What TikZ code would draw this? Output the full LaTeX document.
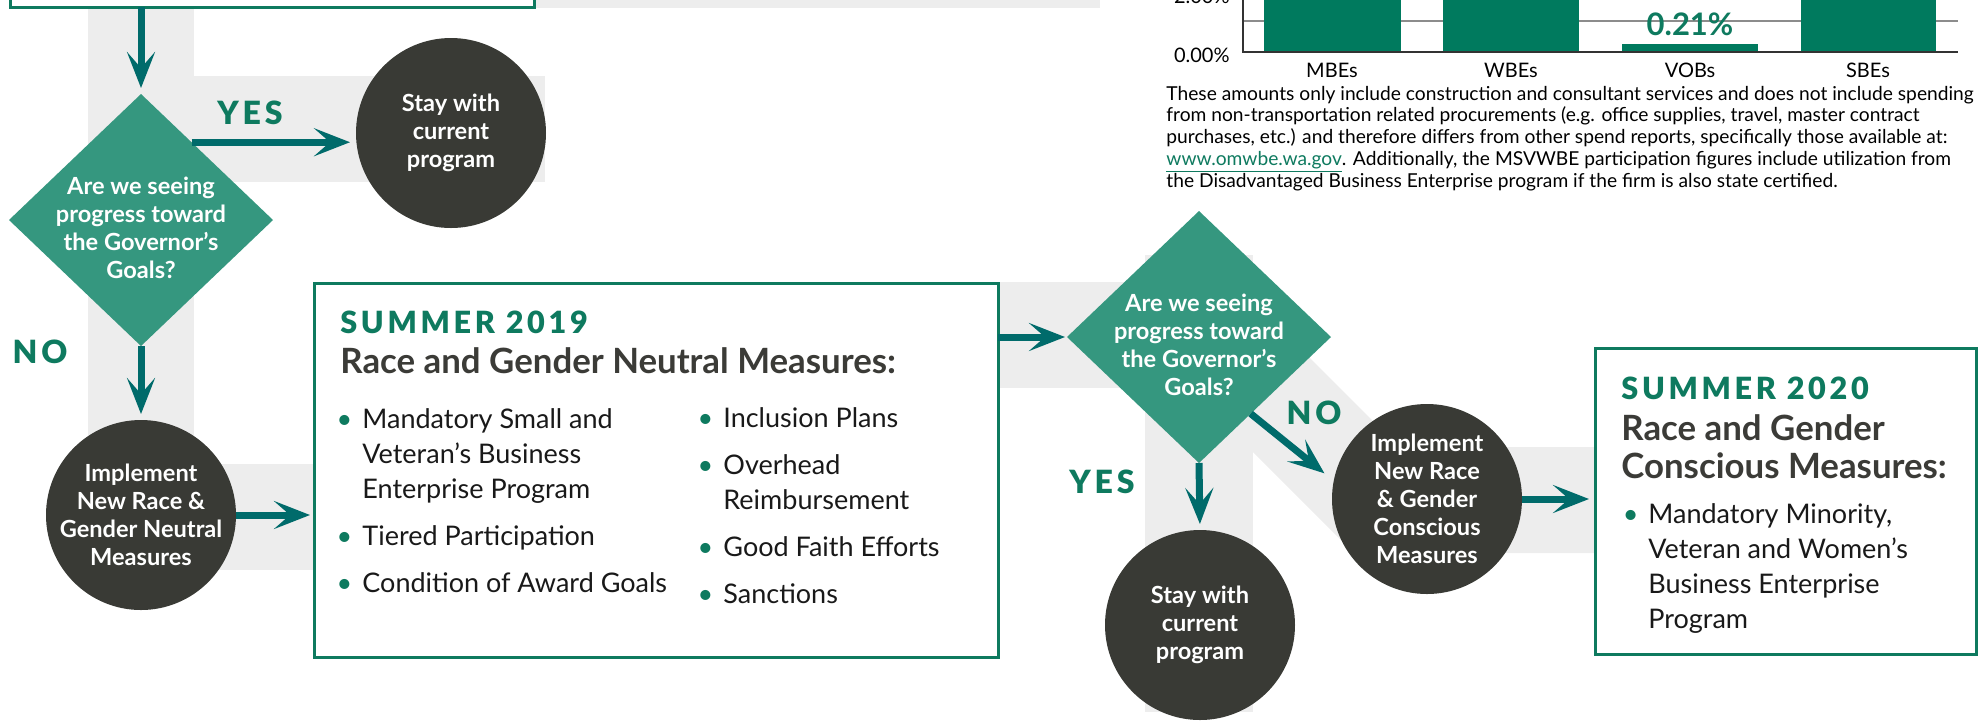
\documentclass[tikz,border=0pt]{standalone}
\usepackage{fontspec}
\setmainfont{Lato}
\newfontfamily\capsfont[LetterSpace=12]{Lato Black}
\usetikzlibrary{shapes.geometric,arrows.meta}

\definecolor{bandgray}{HTML}{EDEDED}
\definecolor{flowteal}{HTML}{006B6B}
\definecolor{qgreen}{HTML}{35977F}
\definecolor{stepdark}{HTML}{393A35}
\definecolor{wsgreen}{HTML}{0E7A5F}
\definecolor{titledark}{HTML}{3B3B37}
\definecolor{bargreen}{HTML}{007A5E}

\newcommand{\bul}{\llap{\textcolor{wsgreen}{\textbullet}\hspace{5pt}}}

\begin{document}
\begin{tikzpicture}[x=0.5pt, y=-0.5pt,
    band/.style={fill=bandgray},
    panel/.style={draw=wsgreen, line width=1.5pt, fill=white, inner sep=0pt, outer sep=0pt},
    decision/.style={diamond, fill=qgreen, minimum width=132pt, minimum height=126pt, inner sep=0pt, outer sep=0pt},
    stepcircle/.style={circle, fill=stepdark, minimum size=95pt, inner sep=-6pt, outer sep=0pt},
    inner/.style={text=white, align=center, font=\fontsize{11.8}{14}\selectfont\bfseries},
    answer/.style={text=wsgreen, inner sep=0pt, font=\capsfont\fontsize{16}{16}\selectfont},
    flow/.style={draw=flowteal, line width=3.5pt, -{Stealth[length=18pt, width=14pt, inset=8pt]}, shorten >=3pt},
    season/.style={anchor=base west, inner sep=0pt, text=wsgreen, font=\capsfont\fontsize{15.3}{15}\selectfont},
    heading/.style={anchor=base west, inner sep=0pt, align=left, text=titledark, font=\fontsize{17.4}{19}\selectfont\bfseries},
    bullets/.style={anchor=base west, inner sep=0pt, align=left, text=black!90, font=\fontsize{13.5}{17.5}\selectfont},
    axislabel/.style={inner sep=0pt, font=\fontsize{10}{12}\selectfont}]

    \useasboundingbox (0,0) rectangle (1983,720);
    \clip (0,0) rectangle (1983,720);

    % grey channels behind the flow
    \fill[band] (534,-10) rectangle (1100,8);
    \fill[band] (88,0) rectangle (194,570);
    \fill[band] (194,76) rectangle (545,182);
    \fill[band] (194,464) rectangle (314,570);
    \fill[band] (998,282) rectangle (1199,388);
    \fill[band] (1145,255) rectangle (1253,712);
    \fill[band] (1253,301) -- (1399,447) -- (1595,447) -- (1595,553) -- (1354,553) -- (1253,452) -- cycle;

    % boxes
    \node[panel, minimum width=262pt, minimum height=60pt] (goals) at (272,-53) {};
    \node[panel, minimum width=342pt, minimum height=187pt] (neutral) at (656,470) {};
    \node[panel, minimum width=190.5pt, minimum height=153pt] (conscious) at (1785.5,501) {};

    % decisions and steps
    \node[decision] (q1) at (141,220) {};
    \node[inner] (q1text) at (141,228) {Are we seeing\\progress toward\\the Governor’s\\Goals?};
    \node[decision] (q2) at (1199,337) {};
    \node[inner] (q2text) at (1199,345) {Are we seeing\\progress toward\\the Governor’s\\Goals?};

    \node[stepcircle, inner] (s1) at (451,133) {Stay with\\current\\program};
    \node[stepcircle, inner] (m1) at (141,515) {Implement\\New Race \&\\Gender Neutral\\Measures};
    \node[stepcircle, inner] (s2) at (1200,625) {Stay with\\current\\program};
    \node[stepcircle, inner] (m2) at (1427,499) {Implement\\New Race\\\& Gender\\Conscious\\Measures};

    \node[answer] (yes1) at (250,113) {YES};
    \node[answer] (no1) at (40,352) {NO};
    \node[answer] (no2) at (1314,413) {NO};
    \node[answer] (yes2) at (1102,482) {YES};

    % arrows
    \draw[flow] (goals.south -| q1) -- (q1.north);
    \draw[flow] (q1.57) -- (q1.57 -| s1.west);
    \draw[flow] (q1.south) -- (m1.north);
    \draw[flow, shorten >=2pt] (m1.east) -- (m1.east -| neutral.west);
    \draw[flow, shorten >=1pt] (q2.west -| neutral.east) -- (q2.west);
    \draw[flow, shorten >=6pt] (q2.-56) -- (m2.169);
    \draw[flow] (q2.south) -- (s2.north);
    \draw[flow] (m2.east) -- (m2.east -| conscious.west);

    % box texts (multi-line nodes sit on their last baseline)
    \node[season] (y2019) at (340,333) {SUMMER 2019};
    \node[heading] (t2019) at (340,373) {Race and Gender Neutral Measures:};
    \node[bullets] (listA) at (362,592) {\bul Mandatory Small and\\Veteran’s Business\\Enterprise Program\\[6pt]\bul Tiered Participation\\[6pt]\bul Condition of Award Goals};
    \node[bullets] (listB) at (723,603) {\bul Inclusion Plans\\[6pt]\bul Overhead\\Reimbursement\\[6pt]\bul Good Faith Efforts\\[6pt]\bul Sanctions};
    \node[season] (y2020) at (1621,399) {SUMMER 2020};
    \node[heading] (t2020) at (1621,478) {Race and Gender\\Conscious Measures:};
    \node[bullets] (listC) at (1648,628) {\bul Mandatory Minority,\\Veteran and Women’s\\Business Enterprise\\Program};

    % chart fragment
    \draw[black!45, line width=0.6pt] (1243,21) -- (1958,21);
    \fill[bargreen] (1264,-10) rectangle (1401,52);
    \fill[bargreen] (1443,-10) rectangle (1579,52);
    \fill[bargreen] (1622,44) rectangle (1758,52);
    \fill[bargreen] (1801,-10) rectangle (1936,52);
    \draw[black!80, line width=1pt] (1243,-10) -- (1243,52) -- (1958,52);
    \node[axislabel, anchor=base east] (ytop) at (1230,3) {2.00\%};
    \node[axislabel, anchor=base east] (yzero) at (1230,62) {0.00\%};
    \node[axislabel, anchor=base] (mbe) at (1332,77) {MBEs};
    \node[axislabel, anchor=base] (wbe) at (1511,77) {WBEs};
    \node[axislabel, anchor=base] (vob) at (1690,77) {VOBs};
    \node[axislabel, anchor=base] (sbe) at (1868,77) {SBEs};
    \node[anchor=base, inner sep=0pt, text=wsgreen, font=\fontsize{15.5}{15}\selectfont\bfseries] (vobval) at (1690,35) {0.21\%};

    \node[anchor=base west, inner sep=0pt, align=left, font=\fontsize{9.6}{10.85}\selectfont] (note) at (1166,187) {These amounts only include construction and consultant services and does not include spending\\from non-transportation related procurements (e.g. office supplies, travel, master contract\\purchases, etc.) and therefore differs from other spend reports, specifically those available at:\\\textcolor{wsgreen}{\underline{www.omwbe.wa.gov}}. Additionally, the MSVWBE participation figures include utilization from\\the Disadvantaged Business Enterprise program if the firm is also state certified.};

\end{tikzpicture}
\end{document}
